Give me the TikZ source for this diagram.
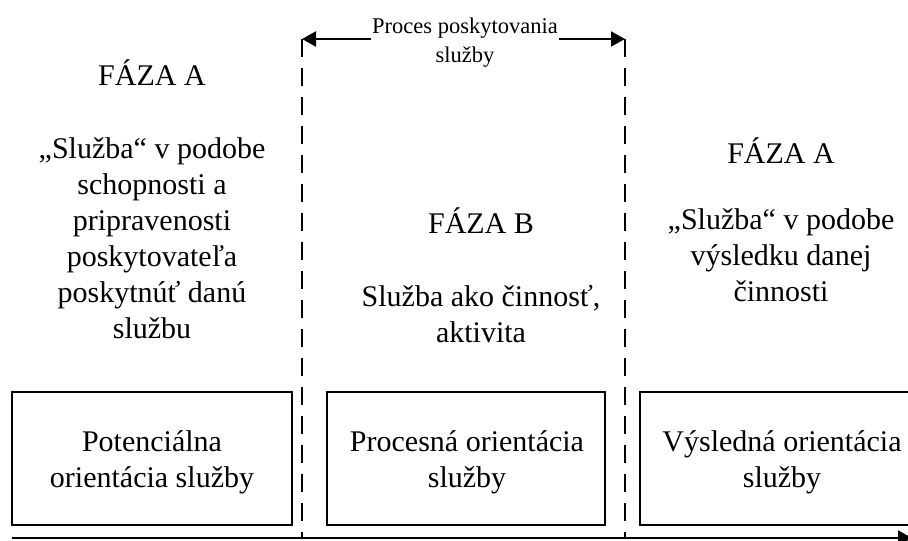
\documentclass[tikz,border=0pt]{standalone}
\usepackage{fontspec}
\setmainfont{Liberation Serif}
\usetikzlibrary{arrows.meta}
\begin{document}
\begin{tikzpicture}[x=1pt,y=-1pt,
  >={Triangle[length=14pt,width=15pt]},
  txt/.style={align=center, font=\fontsize{30}{36}\selectfont, inner sep=0pt, anchor=base},
  lbl/.style={align=center, font=\fontsize{22.5}{29}\selectfont, inner sep=1pt, fill=white, anchor=base},
  phasebox/.style={draw, line width=1.4pt, inner sep=0pt, minimum height=133pt},
  divider/.style={line width=2pt, dash pattern=on 18pt off 11pt},
  flow/.style={line width=2pt, ->}]
\useasboundingbox (0,0) rectangle (908,541);

% phase dividers
\coordinate (dl1) at (302,39);
\coordinate (dl2) at (302,538);
\coordinate (dr1) at (625,39);
\coordinate (dr2) at (625,538);
\draw[divider] (dl1) -- (dl2);
\draw[divider] (dr1) -- (dr2);

% service process span (text nodes are anchored at the baseline of their last line)
\coordinate (pl) at (302,39);
\coordinate (pr) at (625,39);
\draw[line width=2pt, <->] (pl) -- (pr);
\node[lbl] (proc) at (465,62) {Proces poskytovania\\služby};

% phase A (left)
\node[txt] (faA1) at (152,85) {FÁZA A};
\node[txt] (descA1) at (152,338) {„Služba“ v podobe\\schopnosti a\\pripravenosti\\poskytovateľa\\poskytnúť danú\\službu};

% phase B
\node[txt] (faB) at (481,233) {FÁZA B};
\node[txt] (descB) at (481,342) {Služba ako činnosť,\\aktivita};

% phase A (right)
\node[txt] (faA2) at (781,163) {FÁZA A};
\node[txt] (descA2) at (781,301) {„Služba“ v podobe\\výsledku danej\\činnosti};

% orientation boxes
\node[phasebox, minimum width=280pt] (boxP) at (152,458.5) {};
\node[phasebox, minimum width=278pt] (boxR) at (466,458.5) {};
\node[phasebox, minimum width=284pt] (boxV) at (782,458.5) {};
\node[txt] (tP) at (152,487) {Potenciálna\\orientácia služby};
\node[txt] (tR) at (467,487) {Procesná orientácia\\služby};
\node[txt] (tV) at (782,487) {Výsledná orientácia\\služby};

% time axis
\coordinate (ax1) at (12,538);
\coordinate (ax2) at (912,538);
\draw[flow] (ax1) -- (ax2);
\end{tikzpicture}
\end{document}
